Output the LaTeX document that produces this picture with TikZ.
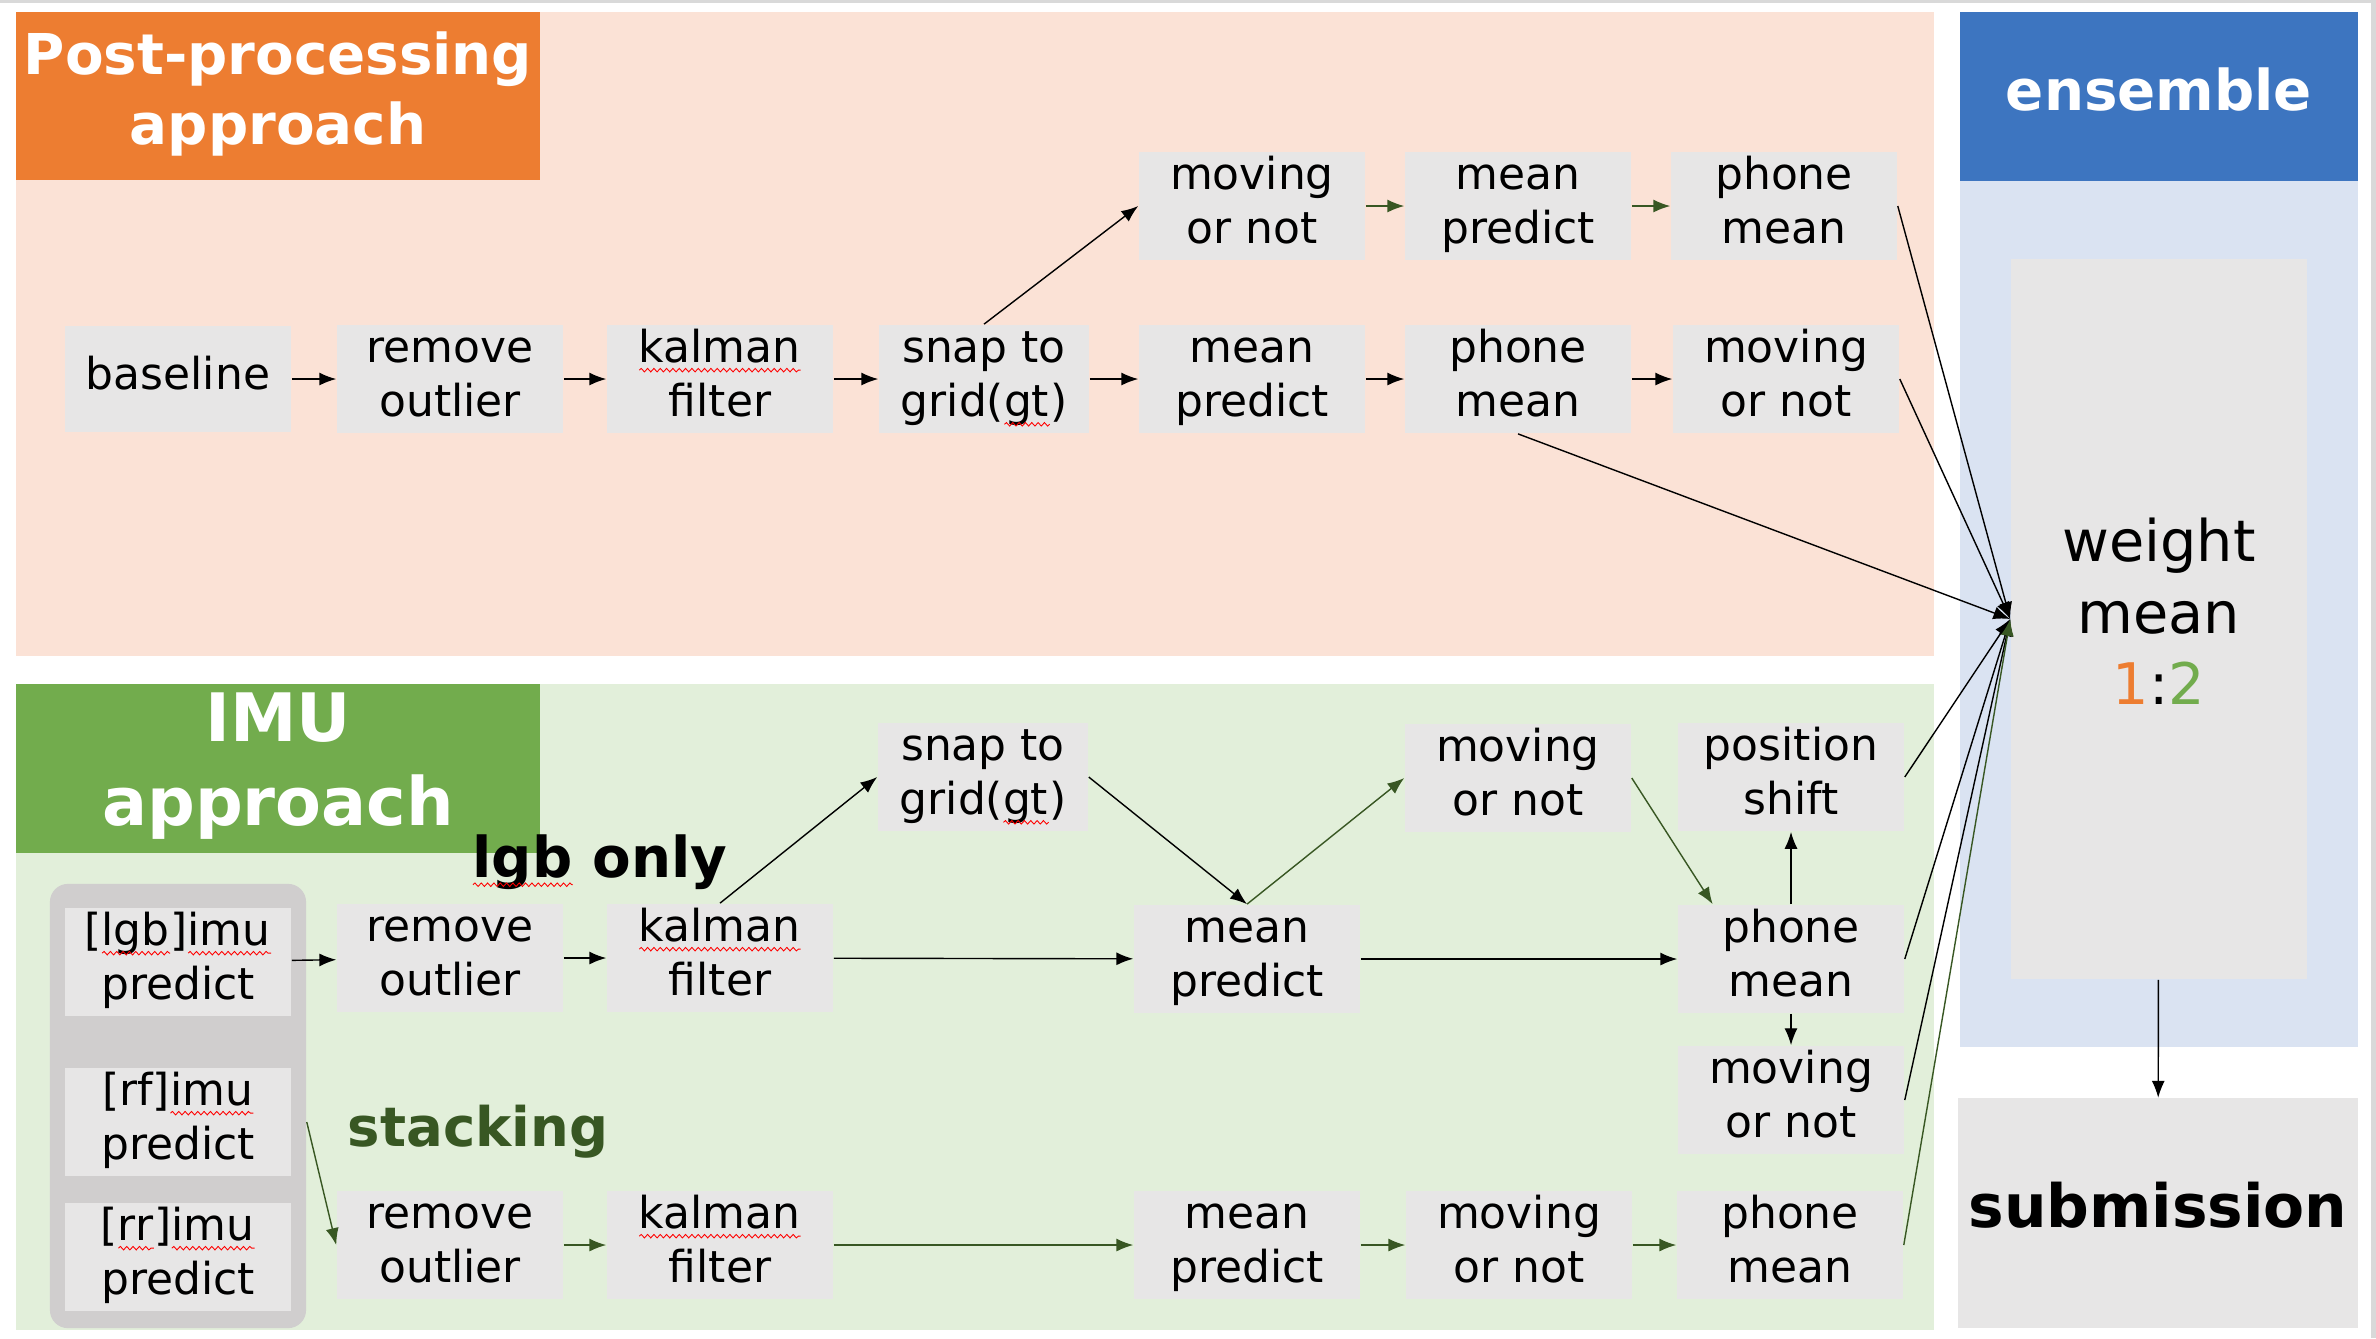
\documentclass[tikz,border=0pt]{standalone}
\usepackage{fontspec}
\setmainfont{DejaVu Sans}
\usetikzlibrary{arrows.meta, decorations.pathmorphing}

\definecolor{postbg}{RGB}{251,226,214}
\definecolor{posthead}{RGB}{237,125,49}
\definecolor{imubg}{RGB}{226,239,218}
\definecolor{imuhead}{RGB}{114,172,77}
\definecolor{ensbg}{RGB}{218,227,242}
\definecolor{enshead}{RGB}{61,117,192}
\definecolor{stagegray}{RGB}{231,230,230}
\definecolor{poolgray}{RGB}{208,206,206}
\definecolor{darkgreen}{RGB}{56,87,35}
\definecolor{framegray}{RGB}{217,217,217}

\newcommand{\spellmark}[1]{\setbox0\hbox{#1}\rlap{\copy0}\tikz[baseline=0pt]\draw[red, fill=none, line width=0.25pt, decorate, decoration={snake, amplitude=0.5pt, segment length=1.8pt}] (0pt,-2.1pt) -- (\wd0,-2.1pt);}

\begin{document}
\begin{tikzpicture}[x=0.01cm, y=-0.01cm,
    stage/.style={fill=stagegray, minimum width=2.26cm, minimum height=1.05cm, inner sep=0pt, align=center, font=\fontsize{12.5}{15.4}\selectfont, execute at end node=\strut},
    pool/.style={fill=poolgray, rounded corners=0.18cm, minimum width=2.56cm, minimum height=4.44cm},
    heading/.style={text=white, align=center, font=\bfseries\fontsize{16}{20}\selectfont},
    flow/.style={-{Latex[length=4.8pt, width=3.7pt]}, line width=0.4pt},
    gflow/.style={flow, darkgreen}]
    \useasboundingbox (0,0) rectangle (2376,1338);
    \fill[framegray] (0,0) rectangle (2376,3);
    \fill[framegray] (2371,0) rectangle (2376,1338);

    \fill[postbg] (16,12) rectangle (1934,656);
    \fill[posthead] (16,12) rectangle (540,180);
    \node[heading] (posttitle) at (278,94) {Post-processing\\approach};

    \fill[imubg] (16,684) rectangle (1934,1330);
    \fill[imuhead] (16,684) rectangle (540,853);
    \node[heading, font=\bfseries\fontsize{19}{24}\selectfont] (imutitle) at (278,766) {IMU\\approach};

    \fill[ensbg] (1960,12) rectangle (2358,1047);
    \fill[enshead] (1960,12) rectangle (2358,181);
    \node[heading] (enstitle) at (2159,90) {ensemble};

    \node[stage, minimum width=2.96cm, minimum height=7.2cm, font=\fontsize{16.3}{20.3}\selectfont] (wmean) at (2159,619) {\strut weight\\mean\\\textcolor{posthead}{1}:\textcolor{imuhead}{2}};
    \node[stage, minimum width=4cm, minimum height=2.29cm, font=\bfseries\fontsize{17}{20}\selectfont] (submit) at (2158,1213) {\strut submission};
    \draw[flow] (wmean) -- (submit);

    \node[stage] (base) at (178,379) {\strut baseline};
    \node[stage] (prout) at (450,379) {\strut remove\\outlier};
    \node[stage] (pkal) at (720,379) {\strut\spellmark{kalman}\\filter};
    \node[stage, minimum width=2.1cm] (psnap) at (984,379) {\strut snap to\\grid(\spellmark{gt})};
    \node[stage] (pmean) at (1252,379) {\strut mean\\predict};
    \node[stage] (pphone) at (1518,379) {\strut phone\\mean};
    \node[stage] (pmove) at (1786,379) {\strut moving\\or not};
    \node[stage] (qmove) at (1252,206) {\strut moving\\or not};
    \node[stage] (qmean) at (1518,206) {\strut mean\\predict};
    \node[stage] (qphone) at (1784,206) {\strut phone\\mean};

    \draw[flow] (base) -- (prout);
    \draw[flow] (prout) -- (pkal);
    \draw[flow] (pkal) -- (psnap);
    \draw[flow] (psnap) -- (pmean);
    \draw[flow] (pmean) -- (pphone);
    \draw[flow] (pphone) -- (pmove);
    \draw[flow] (psnap.north) -- (qmove.west);
    \draw[gflow] (qmove) -- (qmean);
    \draw[gflow] (qmean) -- (qphone);
    \draw[flow] (qphone.east) -- (wmean.west);
    \draw[flow] (pmove.east) -- (wmean.west);
    \draw[flow] (pphone.south) -- (wmean.west);

    \node[pool] (imupool) at (178,1106) {};
    \node[stage] (lgbimu) at (178,962) {\strut[\spellmark{lgb}]\spellmark{imu}\\predict};
    \node[stage] (rfimu) at (178,1122) {\strut[rf]\spellmark{imu}\\predict};
    \node[stage] (rrimu) at (178,1257) {\strut[\spellmark{rr}]\spellmark{imu}\\predict};

    \node[font=\bfseries\fontsize{16}{20}\selectfont] (lgbonly) at (600,862) {\spellmark{lgb} only};
    \node[font=\bfseries\fontsize{15.5}{19}\selectfont, text=darkgreen] (stacklabel) at (478,1132) {stacking};

    \node[stage] (lrout) at (450,958) {\strut remove\\outlier};
    \node[stage] (lkal) at (720,958) {\strut\spellmark{kalman}\\filter};
    \node[stage, minimum width=2.1cm] (lsnap) at (983,777) {\strut snap to\\grid(\spellmark{gt})};
    \node[stage] (lmean) at (1247,959) {\strut mean\\predict};
    \node[stage] (lmove) at (1518,778) {\strut moving\\or not};
    \node[stage] (lshift) at (1791,777) {\strut position\\shift};
    \node[stage] (lphone) at (1791,959) {\strut phone\\mean};
    \node[stage] (lmove2) at (1791,1100) {\strut moving\\or not};

    \node[stage] (srout) at (450,1245) {\strut remove\\outlier};
    \node[stage] (skal) at (720,1245) {\strut\spellmark{kalman}\\filter};
    \node[stage] (smean) at (1247,1245) {\strut mean\\predict};
    \node[stage] (smove) at (1519,1245) {\strut moving\\or not};
    \node[stage] (sphone) at (1790,1245) {\strut phone\\mean};

    \draw[flow] (lgbimu) -- (lrout);
    \draw[flow] (lrout) -- (lkal);
    \draw[flow] (lkal.north) -- (lsnap.west);
    \draw[flow] (lkal) -- (lmean);
    \draw[flow] (lsnap.east) -- (lmean.north);
    \draw[gflow] (lmean.north) -- (lmove.west);
    \draw[gflow] (lmove.east) -- (lphone.145);
    \draw[flow] (lmean) -- (lphone);
    \draw[flow] (lphone) -- (lshift);
    \draw[flow] (lphone) -- (lmove2);
    \draw[flow] (lshift.east) -- (wmean.west);
    \draw[flow] (lphone.east) -- (wmean.west);
    \draw[flow] (lmove2.east) -- (wmean.west);

    \draw[gflow] (imupool.east |- rfimu) -- (srout.west);
    \draw[gflow] (srout) -- (skal);
    \draw[gflow] (skal) -- (smean);
    \draw[gflow] (smean) -- (smove);
    \draw[gflow] (smove) -- (sphone);
    \draw[gflow] (sphone.east) -- (wmean.west);
\end{tikzpicture}
\end{document}
